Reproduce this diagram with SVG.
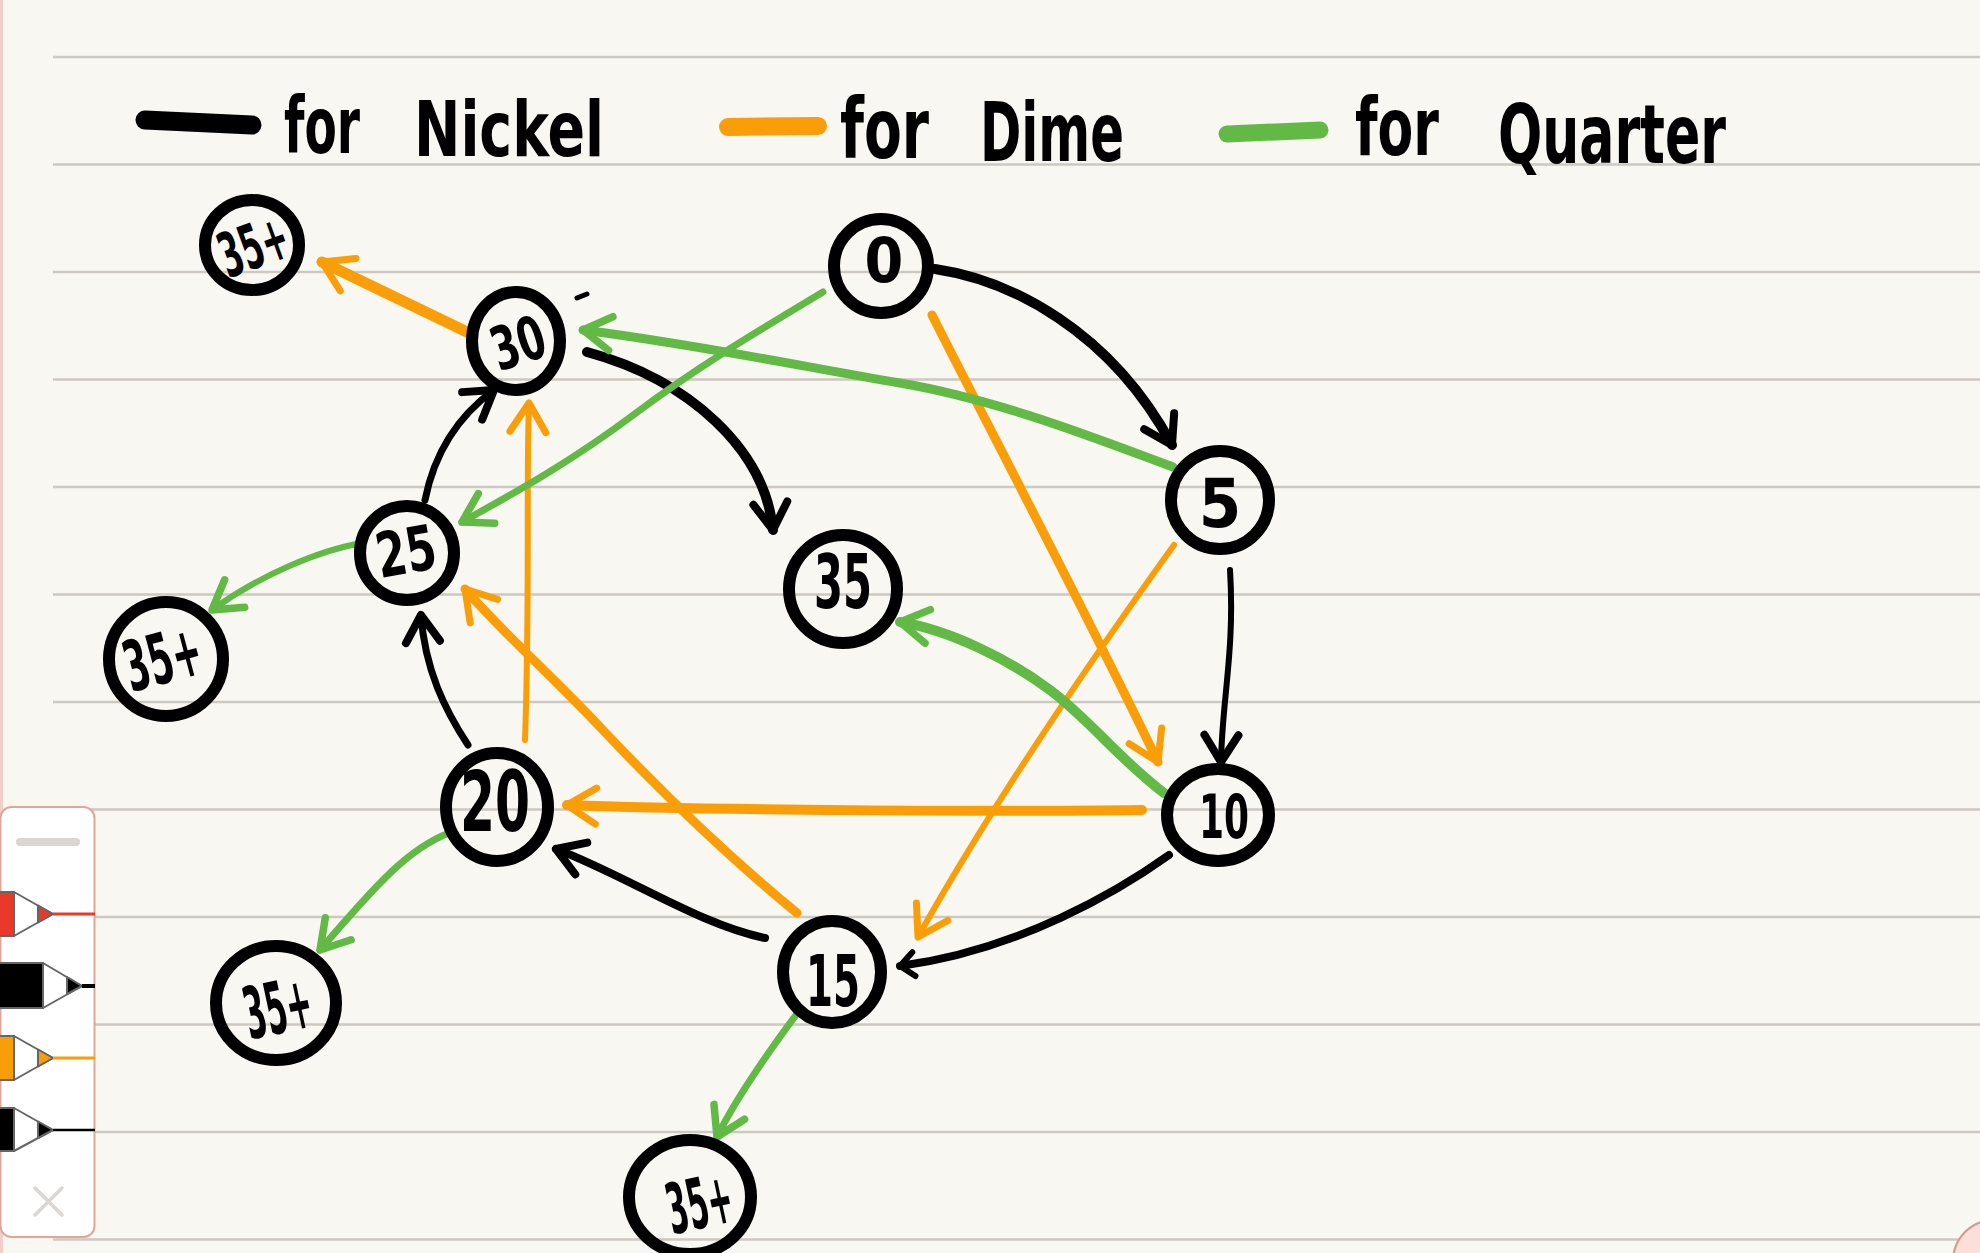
<svg xmlns="http://www.w3.org/2000/svg" width="1980" height="1253" viewBox="0 0 1980 1253">
<style>
.rule{stroke:#cdc9c1;stroke-width:2.5}
.leg{font-family:"Liberation Sans Narrow","DejaVu Sans Condensed","Liberation Sans",sans-serif;font-weight:bold;fill:#000}
.lbl{font-family:"DejaVu Sans Condensed","DejaVu Sans",sans-serif;font-weight:bold;fill:#000;text-anchor:middle}
.ring{fill:none;stroke:#000;stroke-width:12}
.e{fill:none;stroke-linecap:round;stroke-linejoin:round}
.k{stroke:#000}
.o{stroke:#f99e08}
.g{stroke:#62b946}
.pen{stroke:#666;stroke-width:2;stroke-linejoin:round}
</style>
<defs>
<marker id="ak" viewBox="-36 -24 44 48" markerWidth="44" markerHeight="48" refX="0" refY="0" orient="auto" markerUnits="userSpaceOnUse">
<path d="M-27,-17 L0,0 L-27,17" fill="none" stroke="#000" stroke-width="8" stroke-linecap="round" stroke-linejoin="round"/>
</marker>
<marker id="aks" viewBox="-36 -24 44 48" markerWidth="44" markerHeight="48" refX="0" refY="0" orient="auto" markerUnits="userSpaceOnUse">
<path d="M-14,-12 L0,0 L-14,12" fill="none" stroke="#000" stroke-width="6" stroke-linecap="round" stroke-linejoin="round"/>
</marker>
<marker id="ao" viewBox="-36 -24 44 48" markerWidth="44" markerHeight="48" refX="0" refY="0" orient="auto" markerUnits="userSpaceOnUse">
<path d="M-29,-18 L0,0 L-29,18" fill="none" stroke="#f99e08" stroke-width="7" stroke-linecap="round" stroke-linejoin="round"/>
</marker>
<marker id="ag" viewBox="-36 -24 44 48" markerWidth="44" markerHeight="48" refX="0" refY="0" orient="auto" markerUnits="userSpaceOnUse">
<path d="M-28,-17 L0,0 L-28,17" fill="none" stroke="#62b946" stroke-width="7.5" stroke-linecap="round" stroke-linejoin="round"/>
</marker>
</defs>

<rect width="1980" height="1253" fill="#f9f7f2"/>
<line x1="1.5" y1="0" x2="1.5" y2="1253" stroke="#f1cfc6" stroke-width="3"/>
<g id="rules">
<line class="rule" x1="53" y1="57" x2="1980" y2="57"/>
<line class="rule" x1="53" y1="164.5" x2="1980" y2="164.5"/>
<line class="rule" x1="53" y1="272" x2="1980" y2="272"/>
<line class="rule" x1="53" y1="379.5" x2="1980" y2="379.5"/>
<line class="rule" x1="53" y1="487" x2="1980" y2="487"/>
<line class="rule" x1="53" y1="594.5" x2="1980" y2="594.5"/>
<line class="rule" x1="53" y1="702" x2="1980" y2="702"/>
<line class="rule" x1="53" y1="809.5" x2="1980" y2="809.5"/>
<line class="rule" x1="53" y1="917" x2="1980" y2="917"/>
<line class="rule" x1="53" y1="1024.5" x2="1980" y2="1024.5"/>
<line class="rule" x1="53" y1="1132" x2="1980" y2="1132"/>
<line class="rule" x1="53" y1="1239.5" x2="1980" y2="1239.5"/>
</g>

<g id="legend">
<path class="e k" d="M145,120 L252,125" stroke-width="19"/>
<text class="leg" x="284" y="153" font-size="78" textLength="76" lengthAdjust="spacingAndGlyphs">for</text>
<text class="leg" x="414" y="156" font-size="76" textLength="190" lengthAdjust="spacingAndGlyphs">Nickel</text>
<path class="e o" d="M728,127 L818,126" stroke-width="18"/>
<text class="leg" x="840" y="158" font-size="84" textLength="89" lengthAdjust="spacingAndGlyphs">for</text>
<text class="leg" x="980" y="161" font-size="82" textLength="144" lengthAdjust="spacingAndGlyphs">Dime</text>
<path class="e g" d="M1227,134 L1320,130" stroke-width="17"/>
<text class="leg" x="1355" y="155" font-size="80" textLength="84" lengthAdjust="spacingAndGlyphs">for</text>
<text class="leg" x="1498" y="163" font-size="82" textLength="228" lengthAdjust="spacingAndGlyphs">Quarter</text>
</g>

<g id="connectors">
<!-- Nickel (black) -->
<path id="e-0-5" class="e k" stroke-width="10" d="M935,269 C1010,280 1110,330 1172,445" marker-end="url(#ak)"/>
<path id="e-5-10" class="e k" stroke-width="6" d="M1230,570 C1235,650 1222,700 1221,762" marker-end="url(#ak)"/>
<path id="e-10-15" class="e k" stroke-width="8" d="M1169,855 C1120,890 1020,950 900,966" marker-end="url(#aks)"/>
<path id="e-15-20" class="e k" stroke-width="8" d="M765,938 C700,925 625,875 556,849" marker-end="url(#ak)"/>
<path id="e-20-25" class="e k" stroke-width="7" d="M468,745 C445,710 425,670 421,615" marker-end="url(#ak)"/>
<path id="e-25-30" class="e k" stroke-width="7" d="M425,500 C432,465 450,422 494,390" marker-end="url(#ak)"/>
<path id="e-30-35" class="e k" stroke-width="10" d="M587,352 C690,380 765,450 773,530" marker-end="url(#ak)"/>
<!-- Dime (orange) -->
<path id="d-30-35p" class="e o" stroke-width="11" d="M467,332 L322,262" marker-end="url(#ao)"/>
<path id="d-0-10" class="e o" stroke-width="9" d="M932,315 C990,430 1080,600 1158,762" marker-end="url(#ao)"/>
<path id="d-5-15" class="e o" stroke-width="6" d="M1174,545 C1120,620 1000,790 918,937" marker-end="url(#ao)"/>
<path id="d-10-20" class="e o" stroke-width="10" d="M1142,810 C1000,812 700,810 567,805" marker-end="url(#ao)"/>
<path id="d-15-25" class="e o" stroke-width="9" d="M797,913 C720,850 650,780 600,727 S500,630 465,589" marker-end="url(#ao)"/>
<path id="d-20-30" class="e o" stroke-width="6" d="M525,740 C530,600 526,480 529,403" marker-end="url(#ao)"/>
<!-- Quarter (green) -->
<path id="q-0-25" class="e g" stroke-width="7" d="M823,292 C760,330 700,365 636,413 S520,490 462,522" marker-end="url(#ag)"/>
<path id="q-5-30" class="e g" stroke-width="9" d="M1173,467 C1100,440 1000,400 900,383 S700,345 583,330" marker-end="url(#ag)"/>
<path id="q-25-35p" class="e g" stroke-width="6" d="M362,543 C320,550 260,575 212,610" marker-end="url(#ag)"/>
<path id="q-10-35" class="e g" stroke-width="10" d="M1164,793 C1120,760 1090,720 1050,690 S950,630 900,622" marker-end="url(#ag)"/>
<path id="q-20-35p" class="e g" stroke-width="7" d="M449,833 C410,848 380,880 320,950" marker-end="url(#ag)"/>
<path id="q-15-35p" class="e g" stroke-width="7" d="M796,1015 C770,1050 735,1100 717,1137" marker-end="url(#ag)"/>
</g>

<path class="e k" stroke-width="5" d="M577,298 L587,294"/>

<g id="node-35p-a"><ellipse class="ring" cx="252" cy="245" rx="47" ry="45"/><text class="lbl" x="253" y="268" font-size="62" textLength="70" lengthAdjust="spacingAndGlyphs" transform="rotate(-20 253 245)">35+</text></g>
<g id="node-30"><ellipse class="ring" cx="516" cy="341" rx="44" ry="49"/><text class="lbl" x="519" y="364" font-size="60" textLength="54" lengthAdjust="spacingAndGlyphs" transform="rotate(-18 519 346)">30</text></g>
<g id="node-0"><ellipse class="ring" cx="881" cy="266" rx="47" ry="47"/><text class="lbl" x="884" y="282" font-size="62">0</text></g>
<g id="node-5"><ellipse class="ring" cx="1220" cy="500" rx="49" ry="49"/><text class="lbl" x="1220" y="527" font-size="68">5</text></g>
<g id="node-25"><ellipse class="ring" cx="407" cy="553" rx="47" ry="47"/><text class="lbl" x="406" y="573" font-size="62" textLength="60" lengthAdjust="spacingAndGlyphs" transform="rotate(-10 406 551)">25</text></g>
<g id="node-35"><ellipse class="ring" cx="843" cy="589" rx="54" ry="54"/><text class="lbl" x="843" y="608" font-size="74" textLength="58" lengthAdjust="spacingAndGlyphs">35</text></g>
<g id="node-35p-b"><ellipse class="ring" cx="166" cy="659" rx="57" ry="57" stroke-width="14"/><text class="lbl" x="163" y="683" font-size="70" textLength="78" lengthAdjust="spacingAndGlyphs" transform="rotate(-15 163 660)">35+</text></g>
<g id="node-20"><ellipse class="ring" cx="497" cy="807" rx="51" ry="54"/><text class="lbl" x="495" y="831" font-size="84" textLength="70" lengthAdjust="spacingAndGlyphs">20</text></g>
<g id="node-10"><ellipse class="ring" cx="1218" cy="815" rx="51" ry="46"/><text class="lbl" x="1224" y="838" font-size="60" textLength="50" lengthAdjust="spacingAndGlyphs">10</text></g>
<g id="node-15"><ellipse class="ring" cx="832" cy="972" rx="49" ry="51"/><text class="lbl" x="833" y="1006" font-size="72" textLength="54" lengthAdjust="spacingAndGlyphs">15</text></g>
<g id="node-35p-c"><ellipse class="ring" cx="276" cy="1003" rx="60" ry="57"/><text class="lbl" x="278" y="1033" font-size="72" textLength="68" lengthAdjust="spacingAndGlyphs" transform="rotate(-12 278 1009)">35+</text></g>
<g id="node-35p-d"><ellipse class="ring" cx="690" cy="1197" rx="61" ry="57"/><text class="lbl" x="700" y="1228" font-size="70" textLength="66" lengthAdjust="spacingAndGlyphs" transform="rotate(-12 700 1206)">35+</text></g>

<g id="toolbar">
<rect x="0.5" y="807" width="94" height="430" rx="11" fill="#fff" stroke="#dfa699" stroke-width="2"/>
<rect x="16" y="838" width="64" height="8" rx="4" fill="#dad6d2"/>
<rect class="pen" x="-2" y="892" width="16" height="44" fill="#e8392b"/>
<polygon class="pen" points="14,892 53,914 14,936" fill="#fff"/>
<polygon class="pen" points="38,905.5 53,914 38,922.5" fill="#e8392b"/>
<line x1="53" y1="914" x2="95" y2="914" stroke="#e8392b" stroke-width="3"/>
<rect class="pen" x="-2" y="963" width="45" height="45" fill="#000"/>
<polygon class="pen" points="43,963 82,986 43,1008" fill="#fff"/>
<polygon class="pen" points="67,977 82,986 67,994" fill="#000"/>
<line x1="82" y1="986" x2="95" y2="986" stroke="#000" stroke-width="4"/>
<rect class="pen" x="-2" y="1036" width="16" height="44" fill="#f99e08"/>
<polygon class="pen" points="14,1036 53,1058 14,1080" fill="#fff"/>
<polygon class="pen" points="38,1049.5 53,1058 38,1066.5" fill="#f99e08"/>
<line x1="53" y1="1058" x2="95" y2="1058" stroke="#f99e08" stroke-width="3"/>
<rect class="pen" x="-2" y="1108" width="16" height="43" fill="#000"/>
<polygon class="pen" points="14,1108 53,1130 14,1151" fill="#fff"/>
<polygon class="pen" points="38,1121.5 53,1130 38,1138" fill="#000"/>
<line x1="53" y1="1130" x2="95" y2="1130" stroke="#000" stroke-width="2.5"/>
<path d="M35,1188 L62,1215 M62,1188 L35,1215" stroke="#dad6d2" stroke-width="3.5" stroke-linecap="round"/>
</g>
<circle cx="1994" cy="1261" r="41" fill="#fddfda" stroke="#d9968a" stroke-width="2"/>
</svg>
